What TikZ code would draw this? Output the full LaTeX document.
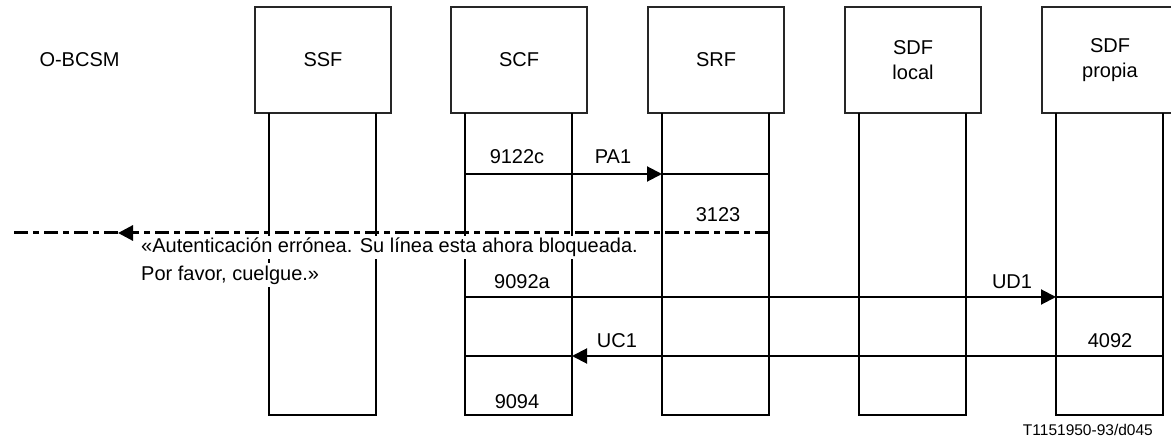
\documentclass[tikz,border=0pt]{standalone}
\usepackage{fontspec}
\setmainfont{Liberation Sans}
\usetikzlibrary{arrows.meta}
\begin{document}
\begin{tikzpicture}[x=1pt,y=-1pt,
  boxst/.style={draw=black!85, line width=1.2pt, minimum width=136pt, minimum height=106pt,
    inner sep=0pt, align=center, font=\fontsize{20}{25}\selectfont},
  life/.style={line width=2pt},
  msg/.style={line width=2pt},
  tip/.style={-{Triangle[length=15pt,width=15pt]}},
  lbl/.style={font=\fontsize{20}{24}\selectfont, inner sep=0pt},
  dd/.style={line width=3pt, dash pattern=on 14pt off 5pt on 6pt off 5pt},
  note/.style={font=\fontsize{20}{24}\selectfont, anchor=west, fill=white, inner xsep=1pt,
    inner ysep=2pt, text height=15pt, text depth=4.5pt}
]
\useasboundingbox (0,0) rectangle (1171,446);
\clip (0,0) rectangle (1171,446);

% title
\node[lbl] (obcsm) at (79.5,60) {O-BCSM};

% entity boxes
\node[boxst] (ssf) at (323,60) {SSF};
\node[boxst] (scf) at (519,60) {SCF};
\node[boxst] (srf) at (716,60) {SRF};
\node[boxst] (loc) at (913,60) {SDF\\local};
\node[boxst] (pro) at (1110,60) {SDF\\propia};

% lifelines
\coordinate (ssfLt) at (269,113); \coordinate (ssfLb) at (269,415);
\coordinate (ssfRt) at (376,113); \coordinate (ssfRb) at (376,415);
\coordinate (scfLt) at (465,113); \coordinate (scfLb) at (465,415);
\coordinate (scfRt) at (572,113); \coordinate (scfRb) at (572,415);
\coordinate (srfLt) at (662,113); \coordinate (srfLb) at (662,415);
\coordinate (srfRt) at (769,113); \coordinate (srfRb) at (769,415);
\coordinate (locLt) at (859,113); \coordinate (locLb) at (859,415);
\coordinate (locRt) at (966,113); \coordinate (locRb) at (966,415);
\coordinate (proLt) at (1056,113); \coordinate (proLb) at (1056,415);
\coordinate (proRt) at (1163,113); \coordinate (proRb) at (1163,415);
\draw[life] (ssfLt) -- (ssfLb) -| (ssfRt);
\draw[life] (scfLt) -- (scfLb) -| (scfRt);
\draw[life] (srfLt) -- (srfLb) -| (srfRt);
\draw[life] (locLt) -- (locLb) -| (locRt);
\draw[life] (proLt) -- (proLb) -| (proRt);

% message PA1
\coordinate (a1) at (465,174); \coordinate (a2) at (662,174); \coordinate (a3) at (769,174);
\draw[msg,tip] (a1) -- (a2);
\draw[msg] (a2) -- (a3);
\node[lbl] (l9122c) at (517,157) {9122c};
\node[lbl] (lpa1) at (613,157) {PA1};
\node[lbl] (l3123) at (718,215) {3123};

% announcement (dash-dot)
\coordinate (d1) at (769,233); \coordinate (d2) at (118,233); \coordinate (d3) at (10,233);
\draw[dd,tip] (d1) -- (d2);
\draw[dd] (d2) -- (d3);
\node[note] (t1) at (140,247.5) {«Autenticación errónea. Su línea esta ahora bloqueada.};
\node[note] (t2) at (140,275) {Por favor, cuelgue.»};

% message UD1
\coordinate (b1) at (465,297); \coordinate (b2) at (1056,297); \coordinate (b3) at (1163,297);
\draw[msg,tip] (b1) -- (b2);
\draw[msg] (b2) -- (b3);
\node[lbl] (l9092a) at (522,282) {9092a};
\node[lbl] (lud1) at (1012,282) {UD1};

% message UC1
\coordinate (c1) at (1163,356); \coordinate (c2) at (572,356); \coordinate (c3) at (465,356);
\draw[msg,tip] (c1) -- (c2);
\draw[msg] (c2) -- (c3);
\node[lbl] (luc1) at (617,341) {UC1};
\node[lbl] (l4092) at (1110,341) {4092};
\node[lbl] (l9094) at (517,402) {9094};

% figure reference
\node[font=\fontsize{15.5}{19}\selectfont, inner sep=0pt, anchor=east] (ref) at (1153,430) {T1151950-93/d045};
\end{tikzpicture}
\end{document}
